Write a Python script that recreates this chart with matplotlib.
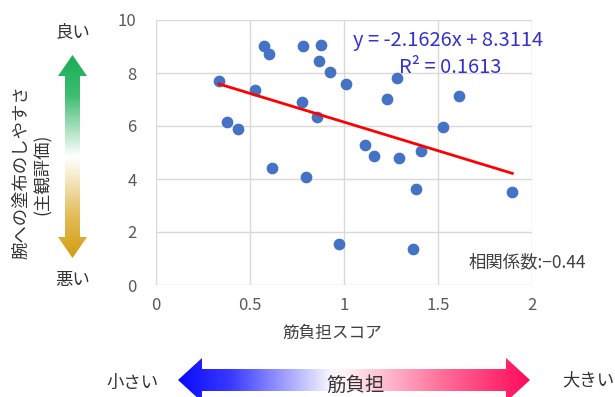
import numpy as np
import matplotlib
matplotlib.use("Agg")
import matplotlib.pyplot as plt
from matplotlib.colors import LinearSegmentedColormap
from matplotlib.patches import Polygon

plt.rcParams['font.family'] = ['Noto Sans CJK JP', 'DejaVu Sans']

# 筋負担スコア と 塗布のしやすさ（主観評価）
score = [0.335, 0.376, 0.436, 0.527, 0.573, 0.599, 0.617, 0.784, 0.777, 0.796,
         0.879, 0.869, 0.858, 0.927, 0.973, 1.011, 1.110, 1.161, 1.231, 1.284,
         1.291, 1.369, 1.383, 1.411, 1.528, 1.614, 1.895]
ease = [7.69, 6.14, 5.90, 7.36, 9.03, 8.70, 4.40, 9.03, 6.92, 4.08,
        9.06, 8.47, 6.34, 8.03, 1.56, 7.58, 5.30, 4.86, 7.03, 7.81,
        4.78, 1.35, 3.64, 5.07, 5.96, 7.13, 3.52]
slope = -2.1626
intercept = 8.3114
r2 = 0.1613
corr = -0.44

W, H = 615, 397
fig = plt.figure(figsize=(W / 100, H / 100), dpi=100)
ax = fig.add_axes([156 / W, 1 - 285 / H, (532 - 156) / W, (285 - 20) / H])

ax.set_xlim(0, 2)
ax.set_ylim(0, 10)
ax.set_xticks([0, 0.5, 1, 1.5, 2])
ax.set_xticklabels(['0', '0.5', '1', '1.5', '2'])
ax.set_yticks([0, 2, 4, 6, 8, 10])
ax.grid(True, color='#d9d9d9', lw=1)
ax.set_axisbelow(True)
for s in ax.spines.values():
    s.set_visible(False)
ax.tick_params(length=0, labelsize=12, colors='#595959')
ax.tick_params(axis='y', pad=14)
ax.tick_params(axis='x', pad=9)

ax.scatter(score, ease, s=55, color='#4472c4', zorder=3)
xs = np.array([min(score), max(score)])
ax.plot(xs, slope * xs + intercept, color='#ff0000', lw=2, zorder=4)

ax.text(1.05, 9.22, f'y = {slope}x + {intercept}', color='#3333cc', fontsize=14.5,
        ha='left', va='center')
ax.text(1.295, 8.2, f'R² = {r2}', color='#3333cc', fontsize=14.5,
        ha='left', va='center')
ax.text(1.66, 0.85, f'相関係数:−{abs(corr)}', color='#404040', fontsize=12.5,
        ha='left', va='center', clip_on=False)
ax.set_xlabel('筋負担スコア', fontsize=12, color='#404040')
ax.xaxis.set_label_coords(0.47, -0.15)

# 装飾用のオーバーレイ（ピクセル座標）
ov = fig.add_axes([0, 0, 1, 1], facecolor='none')
ov.axis('off')

# 縦の矢印（良い / 悪い）
cx, t, b, hl, hh, sh = 72.5, 55, 258, 21, 14.5, 7.5
vpts = [(cx, t), (cx + hh, t + hl), (cx + sh, t + hl), (cx + sh, b - hl), (cx + hh, b - hl),
        (cx, b), (cx - hh, b - hl), (cx - sh, b - hl), (cx - sh, t + hl), (cx - hh, t + hl)]
vpoly = Polygon(vpts, closed=True, facecolor='none', edgecolor='none')
ov.add_patch(vpoly)
vcmap = LinearSegmentedColormap.from_list(
    'gy', [(0, '#17ad56'), (0.2, '#3fbd72'), (0.5, '#ffffff'), (0.56, '#faf3e0'),
           (0.8, '#e2bb55'), (1, '#d49d12')])
grad = np.linspace(0, 1, 256).reshape(-1, 1)
im = ov.imshow(grad, cmap=vcmap, aspect='auto', extent=(cx - hh, cx + hh, b, t),
               interpolation='bilinear')
im.set_clip_path(vpoly)

# 横の矢印（筋負担）
l, r, cy, hl2, hh2, sh2 = 178, 530, 380, 24, 22, 11
hpts = [(l, cy), (l + hl2, cy - hh2), (l + hl2, cy - sh2), (r - hl2, cy - sh2), (r - hl2, cy - hh2),
        (r, cy), (r - hl2, cy + hh2), (r - hl2, cy + sh2), (l + hl2, cy + sh2), (l + hl2, cy + hh2)]
hpoly = Polygon(hpts, closed=True, facecolor='none', edgecolor='none')
ov.add_patch(hpoly)
hcmap = LinearSegmentedColormap.from_list(
    'br', [(0, '#0a0aff'), (0.15, '#3a3aff'), (0.43, '#f4f4ff'), (0.47, '#fff4f7'),
           (0.75, '#ff6f9a'), (1, '#ff0a5a')])
grad2 = np.linspace(0, 1, 256).reshape(1, -1)
im2 = ov.imshow(grad2, cmap=hcmap, aspect='auto', extent=(l, r, cy + hh2, cy - hh2),
                interpolation='bilinear')
im2.set_clip_path(hpoly)
ov.set_xlim(0, W)
ov.set_ylim(H, 0)

txt = '#333333'
ov.text(73, 33, '良い', fontsize=12.5, color=txt, ha='center', va='center')
ov.text(73, 280, '悪い', fontsize=12.5, color=txt, ha='center', va='center')
ov.text(21, 172, '腕への塗布のしやすさ', fontsize=12.5, color=txt, rotation=90,
        ha='center', va='center')
ov.text(43, 174, '(主観評価)', fontsize=12.5, color=txt, rotation=90,
        ha='center', va='center')
ov.text(132, 383, '小さい', fontsize=12.5, color=txt, ha='center', va='center')
ov.text(588, 380, '大きい', fontsize=12.5, color=txt, ha='center', va='center')
ov.text(356, 385, '筋負担', fontsize=14, color=txt, ha='center', va='center')

fig.savefig('out.png', dpi=100)
